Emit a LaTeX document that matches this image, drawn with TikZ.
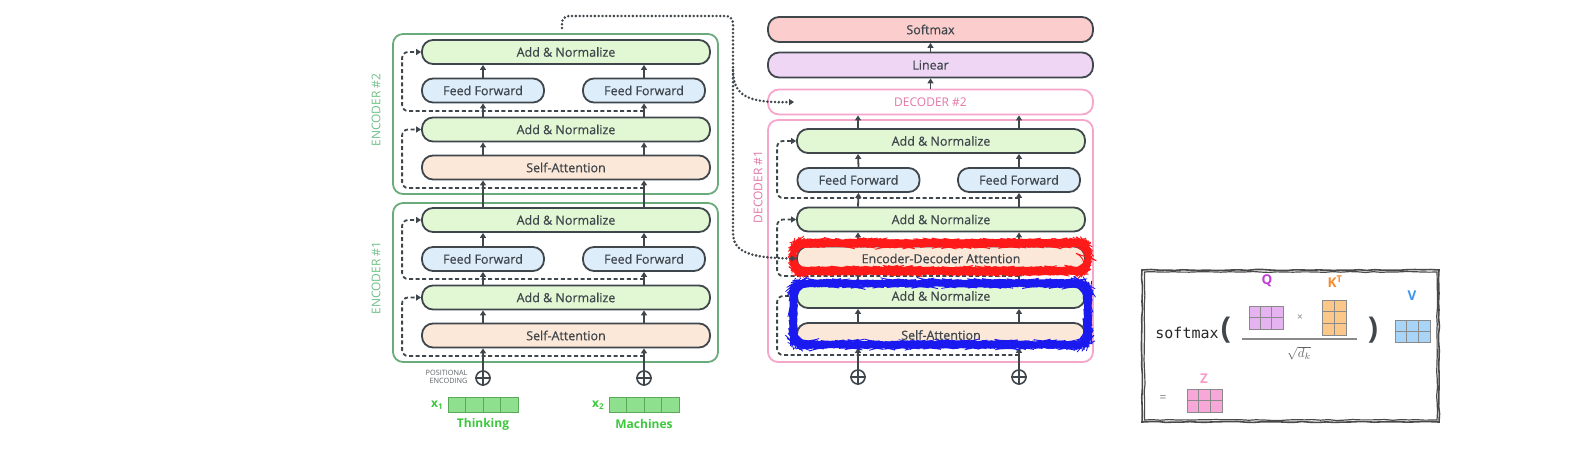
\documentclass[tikz,border=0pt]{standalone}
\usepackage{fontspec}
\usepackage{graphicx}
\setmainfont{Open Sans}
\setmonofont{DejaVu Sans Mono}
\newfontfamily\boxfont{Open Sans}[FakeBold=0.5]
\usetikzlibrary{arrows.meta,decorations.pathmorphing,calc}
\definecolor{boxc}{HTML}{3F464C}
\definecolor{anc}{HTML}{E2F7D4}
\definecolor{ffc}{HTML}{DEEDFA}
\definecolor{sac}{HTML}{FCE8D8}
\definecolor{smc}{HTML}{FBCDCD}
\definecolor{linc}{HTML}{F0D6F5}
\definecolor{encc}{HTML}{6AAB7B}
\definecolor{enclc}{HTML}{6FBF86}
\definecolor{decc}{HTML}{F7A6CB}
\definecolor{declc}{HTML}{E277A8}
\definecolor{vecf}{HTML}{8EE08E}
\definecolor{vecd}{HTML}{5AA85A}
\definecolor{wordc}{HTML}{3CC83C}
\definecolor{gridc}{HTML}{8A8A8A}
\definecolor{qf}{HTML}{E5B3F0}
\definecolor{ql}{HTML}{C23DD8}
\definecolor{kf}{HTML}{FCC88A}
\definecolor{kl}{HTML}{F58A2E}
\definecolor{vf}{HTML}{A8D4F8}
\definecolor{vl}{HTML}{3A95F0}
\definecolor{zf}{HTML}{F8A8D8}
\definecolor{zl}{HTML}{F5A0C8}
\definecolor{sketchc}{HTML}{4A4A4A}
\definecolor{redsc}{HTML}{FF1A1A}
\definecolor{bluesc}{HTML}{1A1AF0}
\begin{document}
\begin{tikzpicture}[x=1pt,y=-1pt,
  box/.style={draw=boxc, line width=1.8pt, rounded corners=11pt, minimum height=24pt,
    inner sep=0pt, text=boxc, font=\boxfont\fontsize{12.5}{13}\selectfont},
  an/.style={box, minimum width=288pt, fill=anc},
  ffb/.style={box, minimum width=122pt, fill=ffc},
  sab/.style={box, minimum width=288pt, fill=sac},
  topb/.style={box, minimum width=325pt, minimum height=25pt},
  frm/.style={rounded corners=10pt, line width=1.8pt, minimum width=325pt, inner sep=0pt},
  up/.style={-{Triangle[length=5pt,width=6pt]}, line width=1.8pt, draw=boxc},
  res/.style={-{Triangle[length=5pt,width=6pt]}, line width=1.8pt, draw=boxc,
    dash pattern=on 4pt off 2.6pt, rounded corners=6pt},
  dots/.style={-{Triangle[length=5pt,width=6pt]}, line width=2.8pt, draw=boxc,
    line cap=round, dash pattern=on 0pt off 3.8pt},
  elab/.style={rotate=90, text=enclc, font=\fontsize{12}{13}\selectfont},
  dlab/.style={text=declc, font=\fontsize{12}{13}\selectfont},
  plus/.style={circle, draw=boxc, line width=1.6pt, minimum size=14pt, inner sep=0pt},
  vec/.style={draw=vecd, fill=vecf, line width=0.8pt, minimum width=70pt, minimum height=15pt, inner sep=0pt},
  word/.style={text=wordc, font=\bfseries\fontsize{12}{13}\selectfont},
  mat/.style={draw=gridc, line width=0.9pt, inner sep=0pt},
  mlab/.style={font=\bfseries\fontsize{13.5}{14}\selectfont},
  redline/.style={draw=redsc, line width=0.9pt, decorate, decoration={random steps, segment length=3pt, amplitude=0.5pt}, rounded corners=11pt},
  blueline/.style={draw=bluesc, line width=0.8pt, decorate, decoration={random steps, segment length=3pt, amplitude=0.5pt}, rounded corners=12pt},
  sketch/.style={draw=sketchc, line width=1.6pt, decorate, decoration={random steps, segment length=8pt, amplitude=0.5pt}}
]
\pgfmathsetseed{7}
\useasboundingbox (0,0) rectangle (1570,451);

% column coordinates
\coordinate (cL) at (483,0);
\coordinate (cR) at (644,0);
\coordinate (dL) at (858,0);
\coordinate (dR) at (1019,0);

% ---------------- Encoders ----------------
\node[frm, draw=encc, minimum height=160pt] (enc2) at (555.5,114) {};
\node[frm, draw=encc, minimum height=159pt] (enc1) at (555.5,282.5) {};
\node[elab] (enc2l) at (376,110) {ENCODER \#2};
\node[elab] (enc1l) at (376,278) {ENCODER \#1};

\node[an] (e2a1) at (566,52) {Add \& Normalize};
\node[ffb] (e2fcL) at (483,90.5) {Feed Forward};
\node[ffb] (e2fcR) at (644,90.5) {Feed Forward};
\node[an] (e2a2) at (566,129.5) {Add \& Normalize};
\node[sab] (e2s) at (566,167.5) {Self-Attention};

\node[an] (e1a1) at (566,220) {Add \& Normalize};
\node[ffb] (e1fcL) at (483,259) {Feed Forward};
\node[ffb] (e1fcR) at (644,259) {Feed Forward};
\node[an] (e1a2) at (566,297.5) {Add \& Normalize};
\node[sab] (e1s) at (566,335.5) {Self-Attention};

\node[plus] (pcL) at (483,378) {};
\node[plus] (pcR) at (644,378) {};
\foreach \p in {pcL,pcR}{
  \draw[boxc, line width=1.6pt] (\p.north) -- (\p.south) (\p.west) -- (\p.east);
}
\node[align=right, anchor=east, text=boxc!85, font=\fontsize{7.3}{8}\selectfont] (pe) at (471,377) {POSITIONAL\\ENCODING};

\node[vec] (v1) at (483,404.5) {};
\node[vec] (v2) at (644,404.5) {};
\foreach \v in {v1,v2}{
  \foreach \k in {1,2,3}{
    \draw[vecd, line width=0.8pt] ($(\v.north west)!\k/4!(\v.north east)$) -- ($(\v.south west)!\k/4!(\v.south east)$);
  }
}
\node[word, anchor=east] (x1) at ([xshift=-1pt,yshift=-1pt]v1.west) {x\textsubscript{1}};
\node[word, anchor=east] (x2) at ([xshift=-1pt,yshift=-1pt]v2.west) {x\textsubscript{2}};
\node[word] (w1) at (483,424) {Thinking};
\node[word] (w2) at (644,424) {Machines};

\foreach \c in {cL,cR}{
  \draw[up] (p\c.north) -- (e1s.south -| \c);
  \draw[up] (e1s.north -| \c) -- (e1a2.south -| \c);
  \draw[up] (e1a2.north -| \c) -- (e1f\c.south);
  \draw[up] (e1f\c.north) -- (e1a1.south -| \c);
  \draw[up] (e1a1.north -| \c) -- (e2s.south -| \c);
  \draw[up] (e2s.north -| \c) -- (e2a2.south -| \c);
  \draw[up] (e2a2.north -| \c) -- (e2f\c.south);
  \draw[up] (e2f\c.north) -- (e2a1.south -| \c);
}

\coordinate (r11) at (644,356);
\coordinate (r12) at (644,279);
\coordinate (r21) at (644,188);
\coordinate (r22) at (644,111);
\draw[res] (r11) -| ([xshift=-19pt]e1a2.west) -- (e1a2.west);
\draw[res] (r12) -| ([xshift=-19pt]e1a1.west) -- (e1a1.west);
\draw[res] (r21) -| ([xshift=-19pt]e2a2.west) -- (e2a2.west);
\draw[res] (r22) -| ([xshift=-19pt]e2a1.west) -- (e2a1.west);

% ---------------- Decoders ----------------
\node[topb, fill=smc] (smx) at (930.5,29.5) {Softmax};
\node[topb, fill=linc] (lin) at (930.5,65) {Linear};
\node[topb, draw=decc, fill=white, text=declc, font=\fontsize{12}{13}\selectfont] (dec2) at (930.5,102) {DECODER \#2};
\node[frm, draw=decc, minimum height=242pt] (dec1) at (930.5,241) {};
\node[dlab, rotate=90] (dec1l) at (758,187) {DECODER \#1};

\node[an] (da1) at (941,141) {Add \& Normalize};
\node[ffb] (dfdL) at (858.5,180) {Feed Forward};
\node[ffb] (dfdR) at (1019,180) {Feed Forward};
\node[an] (da2) at (941,219.5) {Add \& Normalize};
\node[sab] (ded) at (941,258.5) {Encoder-Decoder Attention};
\node[an] (da3) at (941,296) {Add \& Normalize};
\node[sab] (ds) at (941,335) {Self-Attention};

\node[plus] (qdL) at (858,377) {};
\node[plus] (qdR) at (1019,377) {};
\foreach \p in {qdL,qdR}{
  \draw[boxc, line width=1.6pt] (\p.north) -- (\p.south) (\p.west) -- (\p.east);
}

\foreach \c in {dL,dR}{
  \draw[up] (q\c.north) -- (ds.south -| \c);
  \draw[up] (ds.north -| \c) -- (da3.south -| \c);
  \draw[up] (da3.north -| \c) -- (ded.south -| \c);
  \draw[up] (ded.north -| \c) -- (da2.south -| \c);
  \draw[up] (da2.north -| \c) -- (df\c.south);
  \draw[up] (df\c.north) -- (da1.south -| \c);
  \draw[up] (da1.north -| \c) -- (dec2.south -| \c);
}
\draw[up] (dec2.north) -- (lin.south);
\draw[up] (lin.north) -- (smx.south);

\coordinate (s1) at (1019,355);
\coordinate (s2) at (1019,276);
\coordinate (s3) at (1019,198);
\draw[res] (s1) -| ([xshift=-19pt]da3.west) -- (da3.west);
\draw[res] (s2) -| ([xshift=-19pt]da2.west) -- (da2.west);
\draw[res] (s3) -| ([xshift=-19pt]da1.west) -- (da1.west);

% scribbles
\foreach \o in {0,0.8,1.6,2.4,3.2,4,4.8,5.6}{
  \draw[redline] (795-\o*0.45,246-\o) rectangle (1086+\o*0.45,268+\o);
}
\foreach \o in {0,1.3,2.6,3.9,5.2}{
  \draw[blueline] (796-\o,286-\o) rectangle (1085+\o,342+\o);
}

% dotted connector
\coordinate (dst) at (562,28);
\coordinate (dtop) at (733,16);
\coordinate (dv) at (733,226);
\coordinate (dbr) at (733,70);
\coordinate (d2in) at ([xshift=27pt]dec2.west);
\draw[dots, rounded corners=7pt] (dst) |- (dtop) -- (dv) [sharp corners] .. controls (733,252) and (750,258) .. (ded.west);
\draw[dots] (dbr) .. controls (733,96) and (748,103) .. (d2in);

% ---------------- Formula ----------------
\draw[sketch] (1142,270) rectangle (1439,422);
\draw[sketch, line width=1.2pt] (1144.5,272) rectangle (1437,420);
\node[font=\ttfamily\fontsize{15}{15}\selectfont, text=black!85] (sm) at (1187,333) {softmax};
\node[font=\bfseries\fontsize{30}{30}\selectfont, text=boxc] (lp) at (1226,330) {(};
\node[font=\bfseries\fontsize{30}{30}\selectfont, text=boxc] (rp) at (1373,330) {)};
\node[mat, fill=qf, minimum width=34pt, minimum height=23pt] (Q) at (1266,317.5) {};
\node[mat, fill=kf, minimum width=24pt, minimum height=35pt] (K) at (1334,317.5) {};
\node[mat, fill=vf, minimum width=35pt, minimum height=22pt] (V) at (1412.5,331) {};
\node[mat, fill=zf, minimum width=35pt, minimum height=23pt] (Z) at (1204.5,400.5) {};
\foreach \m in {Q,V,Z}{
  \foreach \k in {1,2}{
    \draw[gridc, line width=0.9pt] ($(\m.north west)!\k/3!(\m.north east)$) -- ($(\m.south west)!\k/3!(\m.south east)$);
  }
  \draw[gridc, line width=0.9pt] (\m.west) -- (\m.east);
}
\foreach \k in {1,2}{
  \draw[gridc, line width=0.9pt] ($(K.north west)!\k/3!(K.south west)$) -- ($(K.north east)!\k/3!(K.south east)$);
}
\draw[gridc, line width=0.9pt] (K.north) -- (K.south);
\node[mlab, text=ql] (Ql) at (1267,281) {Q};
\node[mlab, text=kl] (Kl) at (1335,282) {K\textsuperscript{T}};
\node[mlab, text=vl] (Vl) at (1412,296) {V};
\node[mlab, text=zl] (Zl) at (1204,379) {Z};
\node[text=gray, font=\fontsize{10}{10}\selectfont] (times) at (1300,318) {×};
\draw[gridc, line width=1.3pt] (1242,339) -- (1357,339);
\node[text=gray!80!black] (sq) at (1299,353) {\scalebox{1.3}{$\sqrt{d_k}$}};
\node[text=gray, font=\fontsize{12}{12}\selectfont] (eq) at (1163,399) {=};
\end{tikzpicture}
\end{document}
